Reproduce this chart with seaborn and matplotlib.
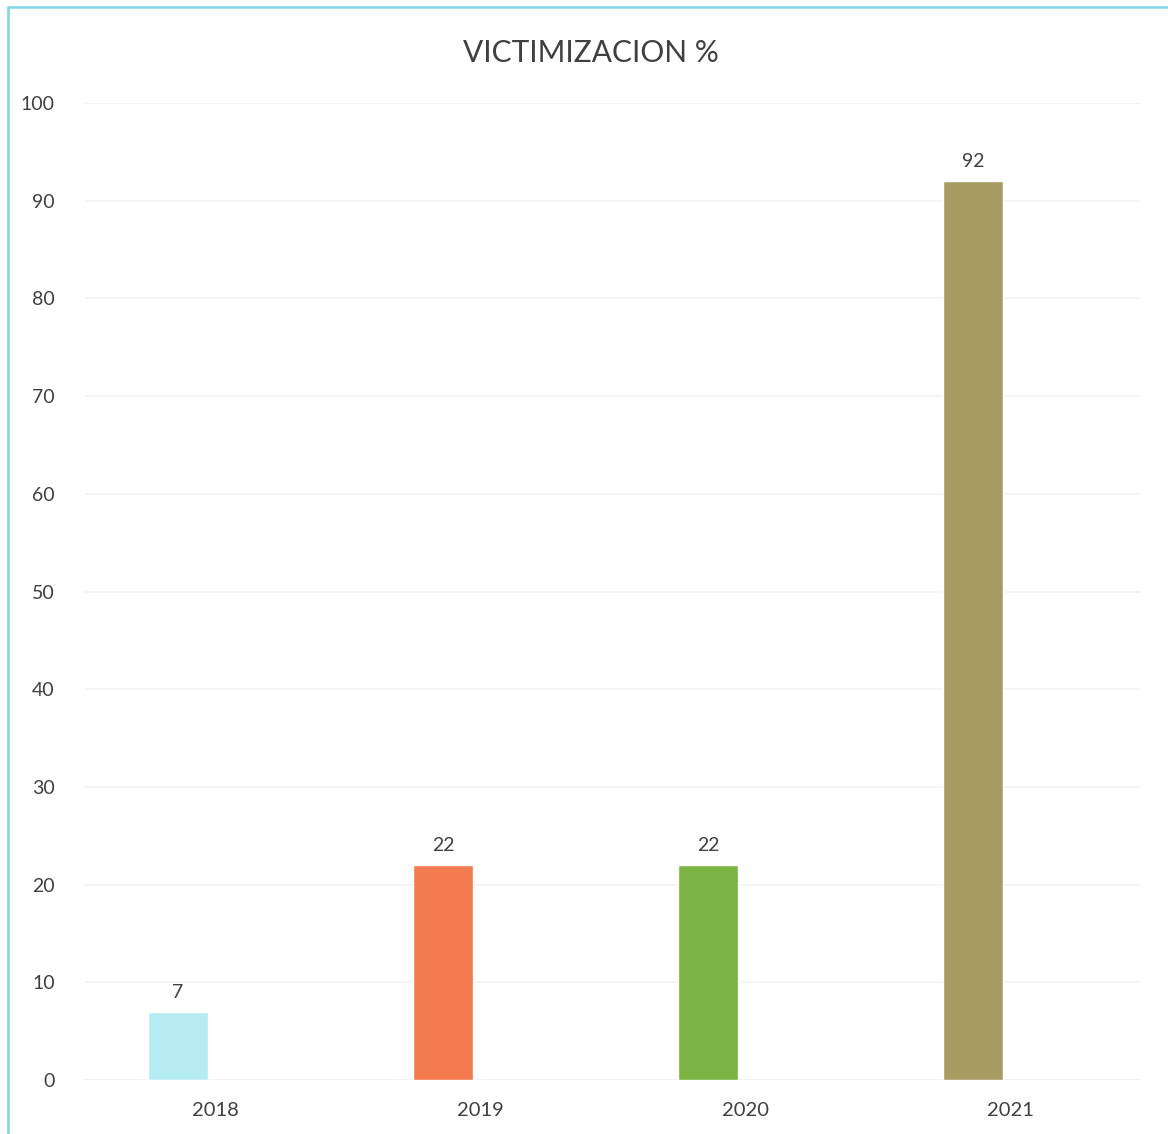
import matplotlib
matplotlib.use("Agg")
import matplotlib.pyplot as plt
import matplotlib.transforms as mtransforms
from matplotlib.patches import Rectangle
import seaborn as sns
import pandas as pd

# data
years = ["2018", "2019", "2020", "2021"]
victimizacion = [7, 22, 22, 92]
bar_colors = ["#b6ecf4", "#f47a4f", "#7bb445", "#a79d62"]
y_ticks = [0, 10, 20, 30, 40, 50, 60, 70, 80, 90, 100]

df = pd.DataFrame({"year": years, "value": victimizacion})

sns.set_theme(style="white")
plt.rcParams["font.family"] = ["Lato", "DejaVu Sans"]

text_color = "#404040"

fig = plt.figure(figsize=(11.68, 11.34), dpi=100)
ax = fig.add_axes([0.073, 0.0476, 0.903, 0.8615])

sns.barplot(data=df, x="year", y="value", hue="year", palette=bar_colors,
            width=0.223, legend=False, ax=ax, saturation=1)

ax.set_ylim(0, 100)
ax.set_xlim(-0.35, 3.63)
ax.set_yticks(y_ticks)
ax.set_yticklabels([str(t) for t in y_ticks], fontsize=14, color=text_color)
ax.tick_params(axis="x", labelsize=14.5, labelcolor=text_color, length=0, pad=16)
ax.tick_params(axis="y", length=0, pad=22)
ax.set_xlabel("")
ax.set_ylabel("")

# faint gridlines
ax.yaxis.grid(True, color="#f3f3f3", linewidth=1.2)
ax.set_axisbelow(True)
for s in ax.spines.values():
    s.set_visible(False)
ax.axhline(0, color="#e4e4e4", linewidth=1.2, zorder=0)

# year labels sit slightly right of the bars in the original
offset = mtransforms.ScaledTranslation(0.37, 0, fig.dpi_scale_trans)
for lbl in ax.get_xticklabels():
    lbl.set_transform(lbl.get_transform() + offset)

# value labels
for c in ax.containers:
    ax.bar_label(c, fmt="%d", padding=8, fontsize=14, color=text_color)

fig.text(0.506, 0.953, "VICTIMIZACION %", ha="center", va="center",
         fontsize=21.5, color=text_color)

# chart frame
fig.patches.append(Rectangle((0.007, -0.01), 1.0, 1.004,
                             transform=fig.transFigure, fill=False,
                             edgecolor="#7fd6e2", linewidth=1.8))

fig.savefig("out.png", dpi=100, facecolor="white")
